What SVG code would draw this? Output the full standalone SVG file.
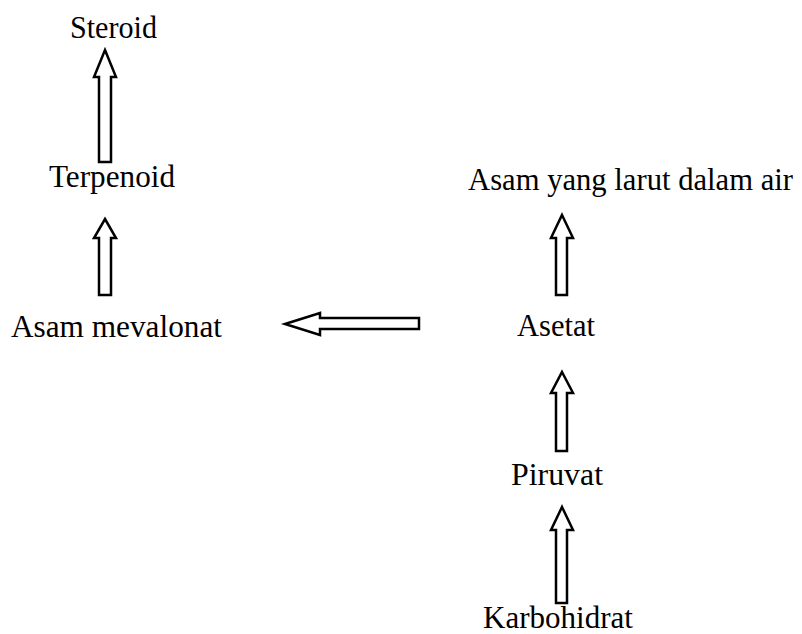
<svg xmlns="http://www.w3.org/2000/svg" width="802" height="634" viewBox="0 0 802 634">
<style>
.lbl{font-family:"Liberation Serif","Times New Roman",serif;font-size:31px;fill:#000}
.arr{fill:#fff;stroke:#000;stroke-width:2.5;stroke-linejoin:miter}
</style>
<rect width="802" height="634" fill="#fff"/>
<g id="connectors">
<path class="arr" d="M105,50 L116,77 L111,77 L111,162 L99,162 L99,77 L94,77 Z"/>
<path class="arr" d="M105,219 L116,238 L111,238 L111,295 L99,295 L99,238 L94,238 Z"/>
<path class="arr" d="M285,324 L320,313 L320,318 L419,318 L419,329 L320,329 L320,335 Z"/>
<path class="arr" d="M562,215 L573,238 L567,238 L567,295 L556,295 L556,238 L551,238 Z"/>
<path class="arr" d="M562,372 L573,393 L567,393 L567,451 L556,451 L556,393 L551,393 Z"/>
<path class="arr" d="M562,507 L573,530 L567,530 L567,603 L556,603 L556,530 L551,530 Z"/>
</g>
<g id="steroid"><text class="lbl" x="70" y="38" textLength="87" lengthAdjust="spacingAndGlyphs">Steroid</text></g>
<g id="terpenoid"><text class="lbl" x="49" y="187" textLength="126" lengthAdjust="spacingAndGlyphs">Terpenoid</text></g>
<g id="asam-mevalonat"><text class="lbl" x="11" y="337" textLength="211" lengthAdjust="spacingAndGlyphs">Asam mevalonat</text></g>
<g id="asam-larut"><text class="lbl" x="468" y="190" textLength="325" lengthAdjust="spacingAndGlyphs">Asam yang larut dalam air</text></g>
<g id="asetat"><text class="lbl" x="517" y="336" textLength="78" lengthAdjust="spacingAndGlyphs">Asetat</text></g>
<g id="piruvat"><text class="lbl" x="511" y="485" textLength="92" lengthAdjust="spacingAndGlyphs">Piruvat</text></g>
<g id="karbohidrat"><text class="lbl" x="483" y="628" textLength="150" lengthAdjust="spacingAndGlyphs">Karbohidrat</text></g>
</svg>
